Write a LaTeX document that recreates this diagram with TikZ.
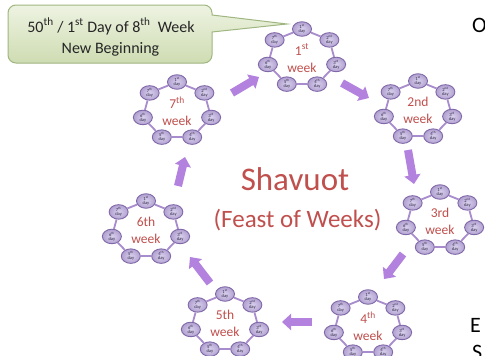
\documentclass[tikz,border=0pt]{standalone}
\usepackage{fontspec}
\setmainfont{Carlito}
\usetikzlibrary{shapes.geometric,arrows.meta,calc}
\definecolor{daybord}{RGB}{128,104,168}
\definecolor{dayin}{RGB}{218,210,238}
\definecolor{dayout}{RGB}{176,160,208}
\definecolor{ringcol}{RGB}{168,140,206}
\definecolor{arrcol}{RGB}{178,130,222}
\definecolor{redtxt}{RGB}{192,80,77}
\definecolor{calltop}{RGB}{238,243,226}
\definecolor{callbot}{RGB}{206,220,178}
\definecolor{callbord}{RGB}{160,182,128}
\definecolor{daytxt}{RGB}{50,42,70}
\definecolor{calltxt}{RGB}{38,38,38}
\newcommand\weekring[4]{%
  \node[wklabel] (#1) at (#2,#3) {#4};
  \foreach \k/\s in {1/st,2/nd,3/rd,4/th,5/th,6/th,7/th}{
    \node[dayell] (#1d\k) at ($(#1)+({-90+(\k-1)*360/7}:35 and 29)$) {\k\textsuperscript{\s}\\[-0.3pt]day};
  }
  \foreach \k in {1,...,7}{
    \pgfmathtruncatemacro\nxt{mod(\k,7)+1}
    \draw[ringline] (#1d\k) -- (#1d\nxt);
  }
}
\begin{document}
\begin{tikzpicture}[x=1pt,y=-1pt,
  dayell/.style={ellipse, draw=daybord, line width=0.9pt, inner color=dayin, outer color=dayout,
    minimum width=19pt, minimum height=14.5pt, inner sep=0pt, align=center,
    font=\fontsize{4.6}{4.4}\selectfont, text=daytxt},
  ringline/.style={draw=ringcol, line width=1.8pt},
  wklabel/.style={align=center, inner sep=0pt, text=redtxt, font=\fontsize{13.5}{17}\selectfont},
  bigarrow/.style={draw=arrcol, line width=8pt, -{Triangle[width=16pt,length=9pt]}},
  edgeletter/.style={anchor=base west, inner sep=0pt, text=black, font=\fontsize{22}{24}\selectfont},
  calltext/.style={anchor=base, inner sep=0pt, text=calltxt, font=\fontsize{16}{19}\selectfont}]
\useasboundingbox (0,0) rectangle (485,356);
\fill[white] (0,0) rectangle (485,356);
\clip (0,0) rectangle (485,356);
% callout
\draw[callbord, line width=1pt, top color=calltop, bottom color=callbot]
  (16,5) -- (204,5) arc[start angle=-90,end angle=0,radius=8] -- (212,15) -- (287,24) -- (212,32)
  -- (212,55) arc[start angle=0,end angle=90,radius=8] -- (16,63)
  arc[start angle=90,end angle=180,radius=8] -- (8,13)
  arc[start angle=180,end angle=270,radius=8] -- cycle;
\node[calltext] (c1) at (111,32) {50\textsuperscript{th} / 1\textsuperscript{st} Day of 8\textsuperscript{th}~ Week};
\node[calltext] (c2) at (110.5,53) {New Beginning};
% weeks
\weekring{wa}{302}{58}{1\textsuperscript{st}\\week}
\weekring{wb}{418}{110}{2nd\\week}
\weekring{wc}{440}{221}{3rd\\week}
\weekring{wd}{368}{326}{4\textsuperscript{th}\\week}
\weekring{we}{225}{323}{5th\\week}
\weekring{wf}{146}{230}{6th\\week}
\weekring{wg}{177}{111}{7\textsuperscript{th}\\week}
% arrows
\coordinate (a1s) at (232,93);  \coordinate (a1e) at (259,77);
\coordinate (a2s) at (342,83);  \coordinate (a2e) at (369,98);
\coordinate (a3s) at (408,150); \coordinate (a3e) at (414,184);
\coordinate (a4s) at (403,254); \coordinate (a4e) at (384,279);
\coordinate (a5s) at (312,322); \coordinate (a5e) at (282,322);
\coordinate (a6s) at (210,283); \coordinate (a6e) at (190,257);
\coordinate (a7s) at (178,186); \coordinate (a7e) at (185,157);
\foreach \i in {1,...,7}{\draw[bigarrow] (a\i s) -- (a\i e);}
% centre title
\node[anchor=base, inner sep=0pt, text=redtxt, font=\fontsize{33}{36}\selectfont] (shav) at (295,190) {Shavuot};
\node[anchor=base, inner sep=0pt, text=redtxt, font=\fontsize{25}{28}\selectfont] (feast) at (297.5,227) {(Feast of Weeks)};
% clipped letters at right edge
\node[edgeletter] (rO) at (472,32) {O};
\node[edgeletter] (rE) at (470,332) {E};
\node[edgeletter] (rS) at (472,359) {S};
\end{tikzpicture}
\end{document}
